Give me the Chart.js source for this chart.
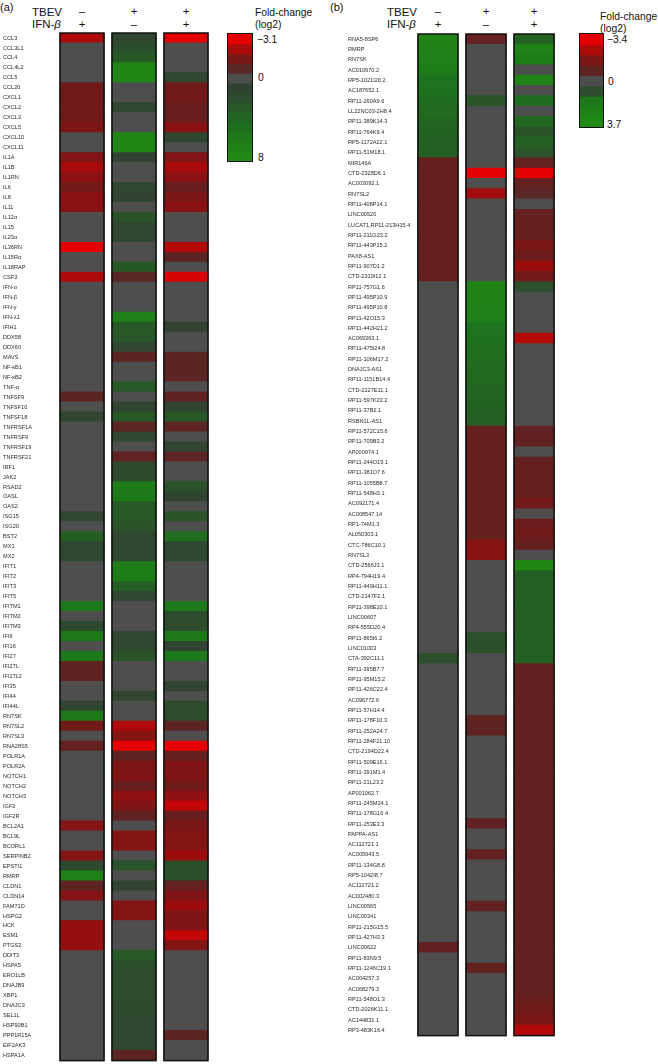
<!DOCTYPE html>
<html>
<head>
<meta charset="utf-8">
<script src="https://cdn.jsdelivr.net/npm/chart.js@4.4.0/dist/chart.umd.min.js"></script>
<style>
  body { margin: 0; background: #fff; width: 658px; height: 1064px; position: relative; overflow: hidden;
         font-family: 'Liberation Sans', Arial, sans-serif; color: #111; }
  .t { position: absolute; white-space: nowrap; line-height: 1; }
  .hd { font-size: 11.5px; }
  .sg { font-size: 11.5px; width: 20px; text-align: center; }
  .lg { font-size: 10.3px; }
  canvas { position: absolute; }
  .scale { border: 1.5px solid #111; }
</style>
</head>
<body>
<!-- panel (a) header -->
<div class="t hd" style="left:0;top:1.5px;font-size:11px">(a)</div>
<div class="t hd" style="left:32px;top:6.5px">TBEV</div>
<div class="t hd" style="left:32px;top:18.5px">IFN-<i>β</i></div>
<div class="t sg" style="left:72px;top:6px">–</div>
<div class="t sg" style="left:124px;top:6px">+</div>
<div class="t sg" style="left:176px;top:6px">+</div>
<div class="t sg" style="left:72px;top:19px">+</div>
<div class="t sg" style="left:124px;top:19px">–</div>
<div class="t sg" style="left:176px;top:19px">+</div>
<div class="t lg" style="left:255px;top:7.7px">Fold-change</div>
<div class="t lg" style="left:255px;top:19.5px">(log2)</div>
<div class="t lg" style="left:257px;top:34.8px">−3.1</div>
<div class="t lg" style="left:258px;top:72.8px">0</div>
<div class="t lg" style="left:258px;top:152.8px">8</div>

<!-- panel (b) header -->
<div class="t hd" style="left:330px;top:1.5px;font-size:11px">(b)</div>
<div class="t hd" style="left:387px;top:6.5px">TBEV</div>
<div class="t hd" style="left:387px;top:18.5px">IFN-<i>β</i></div>
<div class="t sg" style="left:428px;top:6px">–</div>
<div class="t sg" style="left:476px;top:6px">+</div>
<div class="t sg" style="left:524px;top:6px">+</div>
<div class="t sg" style="left:428px;top:19px">+</div>
<div class="t sg" style="left:476px;top:19px">–</div>
<div class="t sg" style="left:524px;top:19px">+</div>
<div class="t lg" style="left:600px;top:12px">Fold-change</div>
<div class="t lg" style="left:600px;top:24px">(log2)</div>
<div class="t lg" style="left:607px;top:34.8px">−3.4</div>
<div class="t lg" style="left:608px;top:76.8px">0</div>
<div class="t lg" style="left:607px;top:119.8px">3.7</div>

<canvas id="heatA" width="210" height="1064" style="left:0;top:0"></canvas>
<canvas id="scaleA" class="scale" width="26" height="129" style="left:226.5px;top:32.5px"></canvas>
<canvas id="heatB" width="210" height="1039" style="left:346px;top:0"></canvas>
<canvas id="scaleB" class="scale" width="25" height="95" style="left:578.5px;top:32.5px"></canvas>

<script>
// ---- panel (a): immune / stress genes ----
const genesA = [
  'CCL3', 'CCL3L1', 'CCL4', 'CCL4L2', 'CCL5', 'CCL20', 'CXCL1', 'CXCL2', 'CXCL3', 'CXCL5',
  'CXCL10', 'CXCL11', 'IL1A', 'IL1B', 'IL1RN', 'IL6', 'IL8', 'IL11', 'IL12α', 'IL15',
  'IL23α', 'IL36RN', 'IL15Rα', 'IL18RAP', 'CSF3', 'IFN-α', 'IFN-β', 'IFN-γ', 'IFN-λ1', 'IFIH1',
  'DDX58', 'DDX60', 'MAVS', 'NF-κB1', 'NF-κB2', 'TNF-α', 'TNFSF9', 'TNFSF10', 'TNFSF18', 'TNFRSF1A',
  'TNFRSF9', 'TNFRSF19', 'TNFRSF21', 'IRF1', 'JAK2', 'RSAD2', 'OASL', 'OAS2', 'ISG15', 'ISG20',
  'BST2', 'MX1', 'MX2', 'IFIT1', 'IFIT2', 'IFIT3', 'IFIT5', 'IFITM1', 'IFITM2', 'IFITM3',
  'IFI6', 'IFI16', 'IFI27', 'IFI27L', 'IFI27L2', 'IFI35', 'IFI44', 'IFI44L', 'RN7SK', 'RN7SL2',
  'RN7SL3', 'RNA28S5', 'POLR1A', 'POLR2A', 'NOTCH1', 'NOTCH2', 'NOTCH3', 'IGF2', 'IGF2R', 'BCL2A1',
  'BCL9L', 'BCORL1', 'SERPINB2', 'EPSTI1', 'RMRP', 'CLDN1', 'CLDN14', 'FAM71D', 'HSPG2', 'HCK',
  'ESM1', 'PTGS2', 'DDIT3', 'HSPA5', 'ERO1LB', 'DNAJB9', 'XBP1', 'DNAJC3', 'SEL1L', 'HSP90B1',
  'PPP1R15A', 'EIF2AK3', 'HSPA1A'
];
// log2 fold-change, TBEV - / IFN-b +
const ifnA = [
  -2.3, 0, 0, 0, 0, -1.2, -1.2, -1.2, -1.2, -1.5,
  0, 0, -1.5, -2.2, -1.7, -1.3, -1.7, -1.7, 0, 0,
  0, -3.1, 0, 0, -2.3, 0, 0, 0, 0, 0,
  0, 0, 0, 0, 0, 0, -0.7, 0, 1.5, 0,
  0, 0, 0, 0, 0, 0, 0, 0, 1.5, 0,
  3.5, 1.6, 1.6, 0, 0, 0, 0, 6, 0, 1.8,
  6, 0, 6, -0.8, -0.8, 0, 0, 1.5, 6, -1.2,
  0, -0.9, 0, 0, 0, 0, 0, 0, 0, -1.6,
  0, 0, -1.6, 1.8, 7, -0.7, -1.6, 0, 0, -1.9,
  -1.9, -1.9, 0, 0, 0, 0, 0, 0, 0, 0,
  0, 0, 0
];
// TBEV + / IFN-b -
const tbevA = [
  1.5, 2, 3, 7.5, 7.5, 0, 0, 1.5, 0, 0,
  7.5, 7.5, 1.2, 0, 0, 1.5, 1.3, 0, 2.5, 1.5,
  1.5, 0, 0, 3, -0.6, 0, 0, 0, 7, 3,
  2.8, 1.5, -0.7, 0, 0, 3, 0, 1.3, 2.8, -0.7,
  1.5, 0, -0.8, 1.8, 1.8, 6.5, 6, 3, 3, 2.5,
  1.5, 1.6, 1.6, 6.5, 6.5, 3.5, 1.5, 0, 0, 0,
  1.5, 1.5, 2.5, 0, 0, 0, 1.5, 0, 0, -2.3,
  -1.6, -3.1, -0.8, -1.5, -1.5, -1.0, -1.8, -1.5, -0.8, 0,
  -1.6, -1.6, 0, 2.5, 0, 1.3, 0, -1.6, -1.6, 0,
  0, 0, 3, 2.2, 2, 2, 2, 1.8, 1.8, 1.6,
  1.6, 1.5, -0.7
];
// TBEV + / IFN-b +
const bothA = [
  -3.1, 0, 0, 0, 1.5, -1.2, -1.2, -1.0, -1.0, -1.7,
  1.5, 0, -1.5, -2.2, -1.7, -1.0, -1.4, -1.7, 0, 0,
  0, -2.4, -0.7, 0, -2.9, 0, 0, 0, 0, 1.2,
  0, 0, -0.7, -0.7, -0.7, 0, -0.8, 1.3, 2.8, -0.7,
  0, 1.3, -0.7, 0, 0, 2.5, 1.3, 0, 2.5, 0,
  5, 1.6, 1.6, 0, 0, 0, 0, 6, 2, 2,
  6, 1.3, 6, 0, 0, 1.3, 0, 2, 2, -0.7,
  0, -3.1, -0.9, -1.5, -1.5, -1.2, -1.8, -2.6, -1.0, -1.4,
  -1.6, -1.6, -2.0, 2.3, 2.3, -0.9, -1.5, -2.0, -1.5, -1.5,
  -2.6, -1.5, 0, 0, 0, 0, 0, 0, 0, 0,
  -0.7, 0, 0
];

// ---- panel (b): non-coding RNAs ----
const genesB = [
  'RNA5-8SP6', 'RMRP', 'RN7SK', 'AC010970.2', 'RP5-1021I20.2', 'AC187652.1', 'RP11-260A9.6', 'LL22NC03-2H8.4', 'RP11-389K14.3', 'RP11-764K9.4',
  'RP5-1172A22.1', 'RP11-51M18.1', 'MIR146A', 'CTD-2328D6.1', 'AC003092.1', 'RN7SL2', 'RP11-408P14.1', 'LINC00520', 'LUCAT1,RP11-213H15.4', 'RP11-211G23.2',
  'RP11-443P15.2', 'PAX8-AS1', 'RP11-907D1.2', 'CTD-2319I12.1', 'RP11-757G1.6', 'RP11-495P10.9', 'RP11-495P10.8', 'RP11-42O15.3', 'RP11-442H21.2', 'AC069363.1',
  'RP11-475I24.8', 'RP11-106M17.2', 'DNAJC3-AS1', 'RP11-1151B14.4', 'CTD-2227E11.1', 'RP11-597K23.2', 'RP11-37B2.1', 'RSBN1L-AS1', 'RP11-572C15.6', 'RP11-709B3.2',
  'AP000974.1', 'RP11-244O19.1', 'RP11-381O7.6', 'RP11-1055B8.7', 'RP11-548H3.1', 'AC092171.4', 'AC008547.14', 'RP1-74M1.3', 'AL050303.1', 'CTC-786C10.1',
  'RN7SL3', 'CTD-2566J3.1', 'RP4-794H19.4', 'RP11-449H11.1', 'CTD-2147F2.1', 'RP11-398E10.1', 'LINC00607', 'RP4-555D20.4', 'RP11-865I6.2', 'LINC01003',
  'CTA-392C11.1', 'RP11-395B7.7', 'RP11-95M15.2', 'RP11-426C22.4', 'AC096772.6', 'RP11-57H14.4', 'RP11-178F10.3', 'RP11-252A24.7', 'RP11-284F21.10', 'CTD-2194D22.4',
  'RP11-509E16.1', 'RP11-391M1.4', 'RP11-21L23.2', 'AP001062.7', 'RP11-245M24.1', 'RP11-178G16.4', 'RP11-253E3.3', 'PAPPA-AS1', 'AC112721.1', 'AC005943.5',
  'RP11-134G8.8', 'RP5-1042I8.7', 'AC112721.2', 'AC002480.3', 'LINC00565', 'LINC00341', 'RP11-215G15.5', 'RP11-427H3.3', 'LINC00622', 'RP11-83N9.5',
  'RP11-1246C19.1', 'AC004257.3', 'AC068279.3', 'RP11-548O1.3', 'CTD-2026K11.1', 'AC144831.1', 'RP3-483K16.4'
];
const ifnB = [
  3.3, 3.2, 3.1, 3.0, 2.5, 2.4, 2.2, 2.1, 1.9, 1.8,
  1.7, 1.6, -1.0, -1.0, -1.0, -1.0, -1.0, -1.0, -1.0, -1.0,
  -1.0, -1.0, -1.0, -1.0, 0, 0, 0, 0, 0, 0,
  0, 0, 0, 0, 0, 0, 0, 0, 0, 0,
  0, 0, 0, 0, 0, 0, 0, 0, 0, 0,
  0, 0, 0, 0, 0, 0, 0, 0, 0, 0,
  1.0, 0, 0, 0, 0, 0, 0, 0, 0, 0,
  0, 0, 0, 0, 0, 0, 0, 0, 0, 0,
  0, 0, 0, 0, 0, 0, 0, 0, -0.9, 0,
  0, 0, 0, 0, 0, 0, 0
];
const tbevB = [
  -1.0, 0, 0, 0, 0, 0, 1.2, 0, 0, 0,
  0, 0, 0, -3.4, 0, -2.3, 0, 0, 0, 0,
  0, 0, 0, 0, 3.3, 3.3, 3.2, 3.1, 2.5, 2.4,
  2.3, 2.2, 2.1, 2.0, 1.9, 1.8, 1.7, 1.6, -1.0, -1.0,
  -1.0, -1.0, -1.0, -1.0, -1.0, -1.0, -1.0, -1.0, -1.0, -1.8,
  -1.8, 0, 0, 0, 0, 0, 0, 0, 1.0, 1.0,
  0, 0, 0, 0, 0, 0, -0.8, -0.8, 0, 0,
  0, 0, 0, 0, 0, 0, -0.9, 0, 0, -0.9,
  0, 0, 0, 0, -0.9, 0, 0, 0, 0, 0,
  -0.9, 0, 0, 0, 0, 0, 0
];
const bothB = [
  1.7, 3.2, 3.0, 0, 3.3, 0, 2.2, 0, 2.0, 1.2,
  1.7, 1.2, -0.9, -3.4, -1.0, -0.7, 0, -1.0, -1.0, -1.0,
  -1.6, -1.2, -2.2, -1.4, 1.0, 0, 0, 0, 0, -2.6,
  0, 0, 0, 0, 0, 0, 0, 0, -0.9, -0.9,
  0, -1.0, -1.0, -1.0, -1.0, -1.4, 0, -1.2, -1.3, -1.0,
  0, 3.5, 1.6, 1.6, 1.6, 1.6, 1.6, 1.6, 1.6, 1.6,
  1.6, -0.9, -0.9, -0.9, -0.9, -0.9, -0.9, -0.9, -0.9, -0.9,
  -0.9, -0.9, -0.9, -0.9, -0.9, -0.9, -0.9, -0.9, -0.9, -0.9,
  -0.9, -0.9, -0.9, -0.9, -0.9, -0.9, -0.9, -0.9, -0.9, -0.9,
  -0.9, -0.9, -0.9, -1.1, -1.3, -1.6, -2.6
];

// colour-scale ends and legend steps
const rangeA = [-3.1, 8];
const rangeB = [-3.4, 3.7];
const scaleStepsA = [-3.1, -2.2, -1.4, -0.6, 0, 1.2, 2, 3, 4, 5, 6, 7, 8];
const scaleStepsB = [-3.4, -2.5, -1.6, -0.8, 0, 0.9, 2.8, 3.2, 3.7];

const RED_STOPS = [[0, [78, 78, 78]], [0.2, [90, 38, 38]], [0.42, [116, 24, 24]], [0.68, [162, 12, 12]], [1, [228, 0, 0]]];
const GREEN_STOPS = [[0, [78, 78, 78]], [0.15, [50, 66, 50]], [0.38, [38, 90, 38]], [0.68, [30, 116, 28]], [1, [32, 138, 20]]];

function heatColor(v, lo, hi) {
  const stops = v < 0 ? RED_STOPS : GREEN_STOPS;
  const t = Math.min(1, v < 0 ? v / lo : v / hi);
  for (let i = 1; i < stops.length; i++) {
    if (t <= stops[i][0]) {
      const [t0, c0] = stops[i - 1], [t1, c1] = stops[i];
      const f = (t - t0) / (t1 - t0);
      const c = c0.map((x, j) => Math.round(x + (c1[j] - x) * f));
      return `rgb(${c[0]},${c[1]},${c[2]})`;
    }
  }
  const c = stops[stops.length - 1][1];
  return `rgb(${c[0]},${c[1]},${c[2]})`;
}

// black frame round every column
const colOutline = {
  id: 'colOutline',
  afterDatasetsDraw(chart, args, opts) {
    const { ctx, chartArea, scales } = chart;
    ctx.save();
    ctx.strokeStyle = '#111';
    ctx.lineWidth = 1.5;
    for (let k = 0; k < 3; k++) {
      const x0 = scales.x.getPixelForValue(k);
      const x1 = scales.x.getPixelForValue(k + opts.colW);
      ctx.strokeRect(x0, chartArea.top, x1 - x0, chartArea.bottom - chartArea.top);
    }
    ctx.restore();
  }
};

function makeHeatmap(id, genes, cols, range, colW, axisW, pad) {
  return new Chart(document.getElementById(id), {
    type: 'bar',
    data: {
      labels: genes,
      datasets: cols.map((vals, k) => ({
        data: vals.map(() => [k, k + colW]),
        backgroundColor: vals.map(v => heatColor(v, range[0], range[1])),
        borderWidth: 0,
        inflateAmount: 0.6,
        grouped: false,
        barPercentage: 1,
        categoryPercentage: 1
      }))
    },
    options: {
      indexAxis: 'y',
      responsive: false,
      animation: false,
      layout: { padding: pad },
      plugins: { legend: { display: false }, tooltip: { enabled: false }, colOutline: { colW } },
      scales: {
        x: { type: 'linear', display: false, min: -0.02, max: 2 + colW + 0.02 },
        y: {
          grid: { display: false },
          border: { display: false },
          ticks: {
            autoSkip: false, padding: 0, crossAlign: 'far', color: '#2b2b2b',
            font: { family: "'Liberation Sans', Arial, sans-serif", size: 5.6 }
          },
          afterFit: s => { s.width = axisW; }
        }
      }
    },
    plugins: [colOutline]
  });
}

function makeScale(id, steps, range) {
  return new Chart(document.getElementById(id), {
    type: 'bar',
    data: {
      labels: [''],
      datasets: steps.map(v => ({
        data: [1],
        backgroundColor: heatColor(v, range[0], range[1]),
        borderWidth: 0, inflateAmount: 0.6, barPercentage: 1, categoryPercentage: 1
      }))
    },
    options: {
      responsive: false,
      animation: false,
      layout: { padding: 0 },
      plugins: { legend: { display: false }, tooltip: { enabled: false } },
      scales: {
        x: { display: false, stacked: true },
        y: { display: false, stacked: true, reverse: true, min: 0, max: steps.length }
      }
    }
  });
}

makeHeatmap('heatA', genesA, [ifnA, tbevA, bothA], rangeA, 0.846, 56, { left: 3, right: 1, top: 33, bottom: 2 });
makeHeatmap('heatB', genesB, [ifnB, tbevB, bothB], rangeB, 0.833, 69, { left: 2, right: 1, top: 34, bottom: 2 });
makeScale('scaleA', scaleStepsA, rangeA);
makeScale('scaleB', scaleStepsB, rangeB);
</script>
</body>
</html>
